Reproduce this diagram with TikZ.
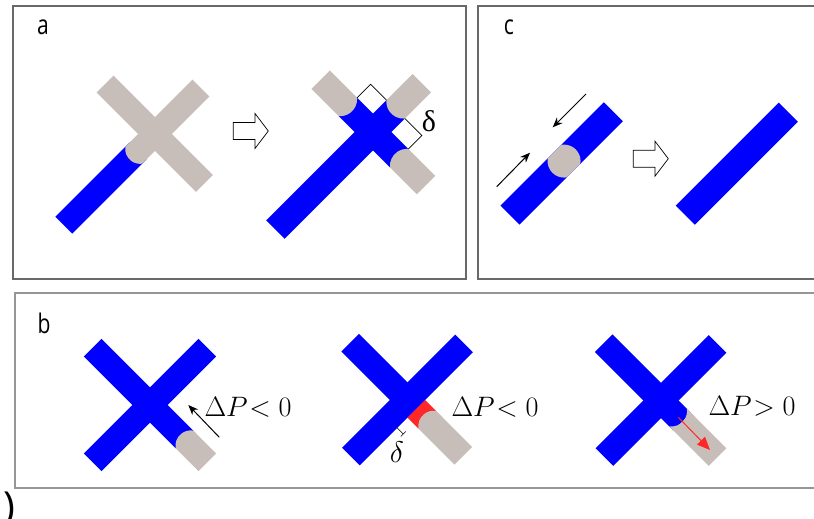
\documentclass[tikz,border=0pt]{standalone}
\usepackage{fontspec}
\newfontfamily\labfont{Open Sans}
\newfontfamily\grkfont{Liberation Serif}
\usetikzlibrary{arrows.meta}
\definecolor{capgray}{RGB}{200,190,185}
\definecolor{barblue}{RGB}{0,0,255}
\definecolor{menred}{RGB}{255,40,40}
\definecolor{frameA}{RGB}{105,105,105}
\definecolor{frameB}{RGB}{150,150,150}
\def\HW{12}\def\Rr{15}\def\capc{9}
\newcommand\Seg[6]{\fill[#6,shift={(#1,#2)},rotate=#3] (#4,-\HW) rectangle (#5,\HW);}
% region from d to L, convex toward the centre
\newcommand\CapOut[6]{\pgfmathsetmacro\ang{atan(\HW/\capc)}%
 \fill[#6,shift={(#1,#2)},rotate=#3] (#5,-\HW) -- (#5,\HW) -- (#4,\HW)
   arc[start angle={180-\ang}, end angle={180+\ang}, radius=\Rr] -- cycle;}
% region from 0 to d, convex toward the end
\newcommand\CapIn[6]{\pgfmathsetmacro\ang{atan(\HW/\capc)}%
 \fill[#6,shift={(#1,#2)},rotate=#3] (0,-\HW) -- (0,\HW) -- (#4,\HW)
   arc[start angle={\ang}, end angle={-\ang}, radius=\Rr] -- cycle;}
% region from d to L, concave (the other colour bulges into it)
\newcommand\CapConc[6]{\pgfmathsetmacro\ang{atan(\HW/\capc)}%
 \fill[#6,shift={(#1,#2)},rotate=#3] (#5,-\HW) -- (#5,\HW) -- (#4,\HW)
   arc[start angle={\ang}, end angle={-\ang}, radius=\Rr] -- cycle;}
\newcommand\Hollow[2]{\draw[hollowarrow,shift={(#1,#2)}] (0,-8.5)--(21.7,-8.5)--(21.7,-17.5)--(35,0)--(21.7,17.5)--(21.7,8.5)--(0,8.5)--cycle;}
\tikzset{
 frameboxA/.style={draw=frameA,line width=1.4pt},
 frameboxB/.style={draw=frameB,line width=1.4pt},
 panellabel/.style={font=\labfont\fontsize{27}{27}\selectfont,inner sep=0pt},
 mathlabel/.style={font=\fontsize{24.88}{26}\selectfont,inner sep=0pt},
 hollowarrow/.style={draw=black,fill=white,line width=0.7pt,line join=miter},
 blackarrow/.style={draw=black,line width=1pt,-{Stealth[length=10pt,width=8pt]}},
 redarrow/.style={draw=menred,line width=1pt,-{Triangle[length=13pt,width=11pt]}},
 bracket/.style={draw=black,line width=0.7pt}
}
\begin{document}
\begin{tikzpicture}[x=1pt,y=-1pt]
\useasboundingbox (0,0) rectangle (814,519);
\clip (0,0) rectangle (814,519);
% frames
\draw[frameboxA] (13,6) rectangle (466,279);
\draw[frameboxA] (478,6) rectangle (830,279);
\draw[frameboxB] (15,293) rectangle (830,488);
\node[panellabel] (la) at (43,27) {\scalebox{0.78}[1]{a}};
\node[panellabel] (lc) at (509,27) {\scalebox{0.78}[1]{c}};
\node[panellabel] (lb) at (44,323) {\scalebox{0.78}[1]{b}};
\node[font=\labfont\fontsize{40}{40}\selectfont,anchor=north,inner sep=0pt] (lp) at (9,492) {)};

% ---- panel a, left
\def\HW{12}\def\Rr{15}\def\capc{9}
\Seg{155}{134}{225}{24}{129}{barblue}
\Seg{155}{134}{-45}{-70.7}{70}{capgray}
\Seg{155}{134}{45}{0}{65}{capgray}
\CapIn{155}{134}{225}{30}{129}{capgray}
\Hollow{233.3}{131}

% ---- panel a, right
\def\HW{13}\def\Rr{17}\def\capc{10.95}
\Seg{373}{132}{225}{-32}{138}{barblue}
\Seg{373}{132}{-45}{-35.5}{37}{barblue}
\CapOut{373}{132}{135}{35.5}{74}{capgray}
\CapOut{373}{132}{45}{32}{69}{capgray}
\CapOut{373}{132}{-45}{37}{75}{capgray}
\begin{scope}[shift={(373,132)},rotate=45]
 \coordinate (t1) at (13,-35.5); \coordinate (t2) at (32,-35.5); \coordinate (t3) at (32,-13);
 \coordinate (r1) at (32,13); \coordinate (r2) at (32,37); \coordinate (r3) at (13,37);
\end{scope}
\draw[bracket] (t1) -- (t2) -- (t3);
\draw[bracket] (r1) -- (r2) -- (r3);
\node[font=\grkfont\fontsize{30}{30}\selectfont,inner sep=0pt] (da) at (429,121) {δ};

% ---- panel c
\def\HW{13.5}
\Seg{561.65}{163.5}{45}{-73.1}{73.1}{barblue}
\begin{scope}[shift={(561.65,163.5)},rotate=45]
 \clip (-73.1,-13.5) rectangle (73.1,13.5);
 \fill[capgray] (3.4,0) circle[radius=16.5];
\end{scope}
\Seg{736.75}{163.65}{45}{-72.9}{72.9}{barblue}
\coordinate (c1) at (496.7,186.7); \coordinate (c2) at (530,152.7);
\coordinate (c3) at (586,94); \coordinate (c4) at (552.7,127.3);
\draw[blackarrow] (c1) -- (c2);
\draw[blackarrow] (c3) -- (c4);
\Hollow{633.3}{158.7}

% ---- panel b, left
\def\HW{12.5}\def\Rr{15.5}\def\capc{9.1}
\Seg{150}{405}{45}{-81}{81}{barblue}
\Seg{150}{405}{-45}{-81}{48.7}{barblue}
\CapOut{150}{405}{-45}{48.7}{81}{capgray}
\coordinate (b1) at (219.3,437.3); \coordinate (b2) at (188.3,405);
\draw[blackarrow] (b1) -- (b2);
\node[mathlabel] (p1) at (248,407.5) {\scalebox{1.13}{$\Delta P\mkern-4mu<0$}};

% ---- panel b, middle
\Seg{407.5}{400}{45}{-80}{80}{barblue}
\Seg{407.5}{400}{-45}{-81}{12.5}{barblue}
\Seg{407.5}{400}{-45}{12.5}{28}{menred}
\CapOut{407.5}{400}{-45}{28}{79}{capgray}
\begin{scope}[shift={(407.5,400)},rotate=-45]
 \coordinate (m1) at (12,27); \coordinate (m2) at (21,27);
 \coordinate (m3) at (21,23.5); \coordinate (m4) at (21,30.5);
\end{scope}
\draw[bracket,line width=0.6pt] (m1) -- (m2);
\draw[bracket,line width=0.6pt] (m3) -- (m4);
\node[mathlabel] (dm) at (397,452) {\scalebox{1.2}{$\delta$}};
\node[mathlabel] (p2) at (495,407.5) {\scalebox{1.13}{$\Delta P\mkern-4mu<0$}};

% ---- panel b, right
\Seg{661}{400.5}{45}{-80}{80}{barblue}
\Seg{661}{400.5}{-45}{-81}{30}{barblue}
\CapConc{661}{400.5}{-45}{24}{80}{capgray}
\coordinate (e1) at (678.3,417.3); \coordinate (e2) at (710,450);
\draw[redarrow] (e1) -- (e2);
\node[mathlabel] (p3) at (752,406.5) {\scalebox{1.13}{$\Delta P\mkern-4mu>0$}};
\end{tikzpicture}
\end{document}
